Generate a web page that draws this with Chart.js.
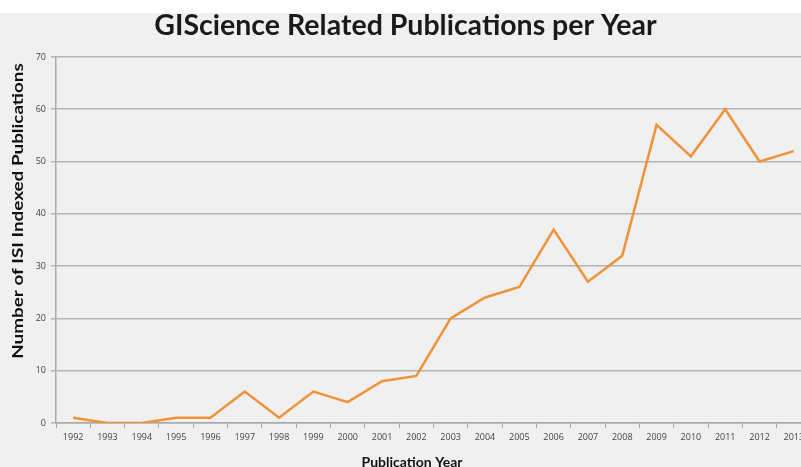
<!DOCTYPE html>
<html>
<head>
<meta charset="utf-8">
<script src="https://cdn.jsdelivr.net/npm/chart.js@4.4.1/dist/chart.umd.min.js"></script>
<style>
  html, body { margin: 0; padding: 0; background: #fff; overflow: hidden; }
  .wrap { position: absolute; left: 0; top: 13px; width: 811px; height: 460px; background: #f0f0f0; }
</style>
</head>
<body>
<div class="wrap"><canvas id="pubChart" width="811" height="460"></canvas></div>
<script>
// ——— data ———
const years = ['1992','1993','1994','1995','1996','1997','1998','1999','2000','2001','2002',
               '2003','2004','2005','2006','2007','2008','2009','2010','2011','2012','2013'];
const publications = [1, 0, 0, 1, 1, 6, 1, 6, 4, 8, 9, 20, 24, 26, 37, 27, 32, 57, 51, 60, 50, 52];
const yTicks = [0, 10, 20, 30, 40, 50, 60, 70];

const chartTitle = 'GIScience Related Publications per Year';
const xTitle = 'Publication Year';
const yTitle = 'Number of ISI Indexed Publications';

// axis titles drawn by hand so they sit where the original has them
const axisTitles = {
  id: 'axisTitles',
  afterDraw(chart) {
    const c = chart.ctx;
    c.save();
    c.fillStyle = '#111';
    c.textAlign = 'center';
    c.textBaseline = 'middle';
    c.font = 'bold 14px Lato, "Open Sans", sans-serif';
    c.fillText(xTitle, 412, 449);
    c.translate(18, 198);
    c.rotate(-Math.PI / 2);
    c.scale(1.3, 1);   // original label is stretched along the axis
    c.font = 'bold 14.5px Lato, "Open Sans", sans-serif';
    c.fillText(yTitle, 0, 0);
    c.restore();
  }
};

const ctx = document.getElementById('pubChart').getContext('2d');
new Chart(ctx, {
  type: 'line',
  data: {
    labels: years,
    datasets: [{
      data: publications,
      borderColor: '#f0923a',
      borderWidth: 2.5,
      pointRadius: 0,
      tension: 0,
      fill: false
    }]
  },
  options: {
    responsive: false,
    animation: false,
    layout: { padding: 0 },
    plugins: {
      legend: { display: false },
      tooltip: { enabled: false },
      title: {
        display: true,
        text: chartTitle,
        color: '#1a1a1a',
        font: { family: 'Lato, "Open Sans", sans-serif', size: 28.5, weight: 'bold', lineHeight: 0.9 },
        padding: { top: 0, bottom: 18.3 }
      }
    },
    scales: {
      x: {
        offset: true,
        grid: { offset: true, drawOnChartArea: false, drawTicks: true, tickLength: 5, color: '#a8a8a8' },
        border: { color: '#a8a8a8', width: 1.5 },
        ticks: { color: '#444', font: { family: '"Open Sans", sans-serif', size: 9 }, padding: 4, maxRotation: 0, autoSkip: false },
        afterFit(scale) { scale.height = 50; }
      },
      y: {
        min: 0,
        max: 70,
        afterBuildTicks(scale) { scale.ticks = yTicks.map(v => ({ value: v })); },
        grid: { color: '#b4b4b4', lineWidth: 1.5, tickLength: 5 },
        border: { color: '#a8a8a8', width: 1.5 },
        ticks: { color: '#444', font: { family: '"Open Sans", sans-serif', size: 9 }, padding: 5 },
        afterFit(scale) { scale.width = 56; }
      }
    }
  },
  plugins: [axisTitles]
});
</script>
</body>
</html>
